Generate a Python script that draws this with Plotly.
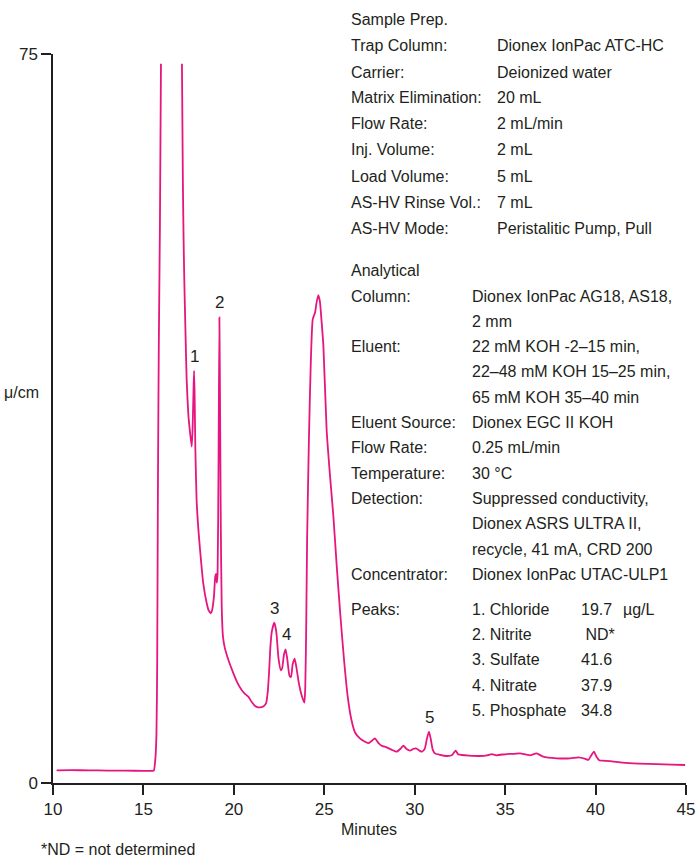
import plotly.graph_objects as go

# ---- data ----
minutes = [10.2, 11.0, 12.0, 13.0, 14.0, 15.0, 15.5, 15.58, 15.66, 15.72, 15.76, 15.8, 15.85, 15.91, 15.97,
           None,
           17.13, 17.18, 17.22, 17.26, 17.33, 17.39, 17.48, 17.58, 17.67, 17.72, 17.77, 17.8, 17.83, 17.87,
           17.94, 18.03, 18.13, 18.31, 18.5, 18.62, 18.72, 18.8, 18.9, 18.97, 19.02, 19.06, 19.1, 19.15,
           19.2, 19.24, 19.28, 19.33, 19.4, 19.5, 19.7, 19.97, 20.2, 20.43, 20.6, 20.8, 21.0, 21.17, 21.3,
           21.45, 21.6, 21.78, 21.88, 21.95, 22.02, 22.1, 22.24, 22.35, 22.47, 22.6, 22.67, 22.77, 22.86,
           22.95, 23.08, 23.16, 23.25, 23.36, 23.45, 23.6, 23.75, 23.9, 23.95, 24.0, 24.05, 24.15, 24.25,
           24.36, 24.49, 24.58, 24.67, 24.76, 24.85, 24.95, 25.13, 25.3, 25.5, 25.7, 25.9, 26.1, 26.3,
           26.5, 26.7, 26.97, 27.2, 27.43, 27.6, 27.8, 28.0, 28.17, 28.45, 28.75, 29.0, 29.2, 29.37, 29.55,
           29.74, 29.9, 30.07, 30.25, 30.39, 30.55, 30.68, 30.79, 30.9, 31.0, 31.12, 31.4, 31.77, 32.05,
           32.26, 32.4, 32.6, 33.0, 33.6, 34.0, 34.26, 34.5, 35.08, 35.5, 35.82, 36.37, 36.74, 37.1, 37.85,
           38.6, 39.05, 39.4, 39.6, 39.75, 39.91, 40.05, 40.2, 40.34, 40.8, 41.5, 42.4, 43.4, 44.2, 44.95]
signal = [1.3, 1.32, 1.3, 1.28, 1.27, 1.25, 1.25, 1.3, 2.5, 5.0, 12.0, 30.0, 45.0, 57.0, 74.0,
          None,
          74.0, 62.0, 56.0, 51.7, 46.0, 41.5, 38.0, 36.0, 34.6, 36.5, 40.5, 42.4, 40.0, 34.5,
          29.1, 26.3, 24.0, 20.5, 18.5, 17.7, 17.46, 17.8, 19.2, 21.2, 21.5, 20.6, 21.5, 32.0,
          47.9, 38.0, 26.0, 18.0, 15.0, 13.9, 12.65, 11.3, 10.3, 9.57, 9.2, 8.88, 8.3, 7.92, 7.8,
          7.78, 7.85, 8.2, 9.5, 11.5, 14.0, 15.6, 16.5, 15.5, 12.8, 11.6, 11.8, 13.2, 13.75,
          12.8, 11.0, 10.9, 12.2, 12.8, 12.0, 10.2, 9.0, 8.26, 10.0, 16.0, 25.0, 35.3, 43.0,
          47.7, 48.4, 49.5, 50.2, 49.5, 47.5, 45.0, 36.3, 32.0, 27.5, 22.0, 17.0, 12.5, 8.8,
          6.5, 5.2, 4.6, 4.3, 4.1, 4.3, 4.6, 4.1, 3.84, 3.67, 3.4, 3.22, 3.5, 3.84, 3.5,
          3.33, 3.5, 3.57, 3.35, 3.22, 3.5, 4.6, 5.28, 4.4, 3.4, 3.05, 2.9, 2.78, 2.85,
          3.33, 2.95, 2.88, 2.82, 2.78, 2.85, 2.98, 2.85, 2.98, 3.0, 3.05, 2.85, 3.05, 2.71, 2.54,
          2.54, 2.64, 2.5, 2.37, 2.8, 3.22, 2.7, 2.35, 2.3, 2.26, 2.09, 2.0, 1.95, 1.9, 1.85]

peak_numbers = ["1", "2", "3", "4", "5"]
peak_times = [17.8, 19.2, 22.24, 22.9, 30.79]
peak_heights = [42.4, 47.9, 16.5, 13.75, 5.28]

x_ticks = [10, 15, 20, 25, 30, 35, 40, 45]
y_ticks = [0, 75]

sample_labels = ["Trap Column:", "Carrier:", "Matrix Elimination:", "Flow Rate:", "Inj. Volume:",
                 "Load Volume:", "AS-HV Rinse Vol.:", "AS-HV Mode:"]
sample_values = ["Dionex IonPac ATC-HC", "Deionized water", "20 mL", "2 mL/min", "2 mL",
                 "5 mL", "7 mL", "Peristalitic Pump, Pull"]

analytical_labels = ["Column:", "", "Eluent:", "", "", "Eluent Source:", "Flow Rate:", "Temperature:",
                     "Detection:", "", "", "Concentrator:"]
analytical_values = ["Dionex IonPac AG18, AS18,", "2 mm", "22 mM KOH -2\u201315 min,",
                     "22\u201348 mM KOH 15\u201325 min,", "65 mM KOH 35\u201340 min", "Dionex EGC II KOH",
                     "0.25 mL/min", "30 \u00b0C", "Suppressed conductivity,", "Dionex ASRS ULTRA II,",
                     "recycle, 41 mA, CRD 200", "Dionex IonPac UTAC-ULP1"]

peak_names = ["1. Chloride", "2. Nitrite", "3. Sulfate", "4. Nitrate", "5. Phosphate"]
peak_amounts = ["19.7", " ND*", "41.6", "37.9", "34.8"]
amount_unit = "\u00b5g/L"

# ---- layout helpers (pixel -> paper) ----
W, H = 699, 858
L, R, T, B = 53, 13, 54, 75
PW, PH = W - L - R, H - T - B


def px(x):
    return (x - L) / PW


def py(y):
    return (H - B - y) / PH


FONT = "Liberation Sans, Arial, sans-serif"
TXT = "#231f20"
FS = 16
LINE = "#e6157f"

fig = go.Figure()
fig.add_trace(go.Scatter(x=minutes, y=signal, mode="lines", connectgaps=False,
                         line=dict(color=LINE, width=1.8, shape="spline", smoothing=0.5),
                         hoverinfo="skip", showlegend=False))

ann = []


def text(x, y, s, anchor="left", size=FS):
    ann.append(dict(x=px(x), y=py(y), xref="paper", yref="paper", text=s, showarrow=False,
                    xanchor=anchor, yanchor="middle", font=dict(family=FONT, size=size, color=TXT)))


# peak number labels
for n, t, h in zip(peak_numbers, peak_times, peak_heights):
    ann.append(dict(x=t, y=h, xref="x", yref="y", text=n, showarrow=False, xanchor="center",
                    yanchor="bottom", yshift=3, font=dict(family=FONT, size=17, color=TXT)))

# Sample prep block
text(349, 20, "Sample Prep.")
for i, (lab, val) in enumerate(zip(sample_labels, sample_values)):
    yy = 46 + 26 * i
    text(349, yy, lab)
    text(495, yy, val)

# Analytical block
text(349, 270, "Analytical")
for i, (lab, val) in enumerate(zip(analytical_labels, analytical_values)):
    yy = 296 + 25.3 * i
    if lab:
        text(349, yy, lab)
    text(470, yy, val)

# Peaks block
text(349, 609, "Peaks:")
for i, (nm, am) in enumerate(zip(peak_names, peak_amounts)):
    yy = 609 + 25.4 * i
    text(470, yy, nm)
    text(579, yy, am)
text(621, 609, amount_unit)

# axis titles and footnote
text(21, 392, "\u03bc/cm", anchor="center")
text(369, 829, "Minutes", anchor="center")
text(39, 849, "*ND = not determined")

fig.update_layout(
    width=W, height=H, margin=dict(l=L, r=R, t=T, b=B, pad=0, autoexpand=False),
    paper_bgcolor="white", plot_bgcolor="white",
    font=dict(family=FONT, size=FS, color=TXT),
    annotations=ann,
    xaxis=dict(range=[10, 45], tickvals=x_ticks, ticks="outside", ticklen=10, tickwidth=1.5,
               tickcolor=TXT, showline=True, linecolor=TXT, linewidth=1.5, showgrid=False,
               zeroline=False, automargin=False, ticklabeloverflow="allow",
               tickfont=dict(family=FONT, size=17, color=TXT)),
    yaxis=dict(range=[0, 75], tickvals=y_ticks, ticks="outside", ticklen=10, tickwidth=1.5,
               tickcolor=TXT, showline=True, linecolor=TXT, linewidth=1.5, showgrid=False,
               zeroline=False, automargin=False,
               tickfont=dict(family=FONT, size=17, color=TXT)),
)

fig.write_html("out.html")
